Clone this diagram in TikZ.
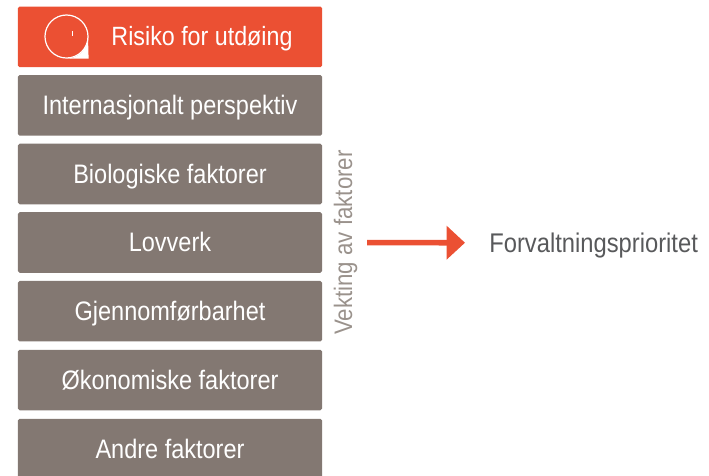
\documentclass[tikz,border=0pt]{standalone}
\usepackage{fontspec}
\setmainfont[FakeStretch=0.88]{Liberation Sans}
\usetikzlibrary{arrows.meta,positioning}
\definecolor{prorange}{RGB}{235,80,51}
\definecolor{prgrey}{RGB}{131,120,114}
\definecolor{prlabel}{RGB}{154,146,140}
\definecolor{prtext}{RGB}{88,89,91}
\tikzstyle{factorbox} = [rectangle, rounded corners=0.04cm, minimum width=7.6cm, minimum height=1.5125cm, text centered, fill=prgrey, text=white, inner sep=0pt, text height=13.5pt, text depth=0pt, font=\fontsize{19}{22}\selectfont]
\tikzstyle{arrow} = [line width=0.14cm,-{Triangle[length=0.46cm,width=0.82cm]},color=prorange]

\begin{document}
\begin{tikzpicture}[x=0.025cm, y=-0.025cm]
\useasboundingbox (0,0) rectangle (709,475);
% Left column: factors
\node[factorbox, fill=prorange] (risiko) at (170,36.8) {};
\node[factorbox] (internasjonalt) at (170,105.3) {Internasjonalt perspektiv};
\node[factorbox] (biologiske) at (170,174) {Biologiske faktorer};
\node[factorbox] (lovverk) at (170,242.5) {Lovverk};
\node[factorbox] (gjennomfor) at (170,311.2) {Gjennomførbarhet};
\node[factorbox] (okonomiske) at (170,380) {Økonomiske faktorer};
\node[factorbox] (andre) at (170,449) {Andre faktorer};

% Icon and text of the top box
\node[circle, draw=white, line width=0.03cm, minimum size=1.075cm, inner sep=0pt] (dial) at (66.5,36.5) {};
\fill[white] (dial.south) arc (270:360:0.5375cm) -- (dial.east |- dial.south) -- cycle;
\draw[white, line width=0.03cm] (72.8,31) -- (72.8,36);
\node[text=white, inner sep=0pt, text height=13.5pt, text depth=0pt, font=\fontsize{18.8}{22}\selectfont] (risikotext) at (202,36.5) {Risiko for utdøing};

% Right side
\node[rotate=90, text=prlabel, inner sep=0pt, text height=13pt, text depth=0pt, font=\fontsize{18}{20}\selectfont] (vekting) at (343,242.5) {Vekting av faktorer};
\node[anchor=west, text=prtext, inner sep=0pt, text height=13.5pt, text depth=0pt, font=\fontsize{19.2}{22}\selectfont] (prioritet) at (489,243) {Forvaltningsprioritet};

% Arrow
\draw[arrow, shorten <=0.37cm, shorten >=0.6cm] (vekting) -- (prioritet);
\end{tikzpicture}
\end{document}
